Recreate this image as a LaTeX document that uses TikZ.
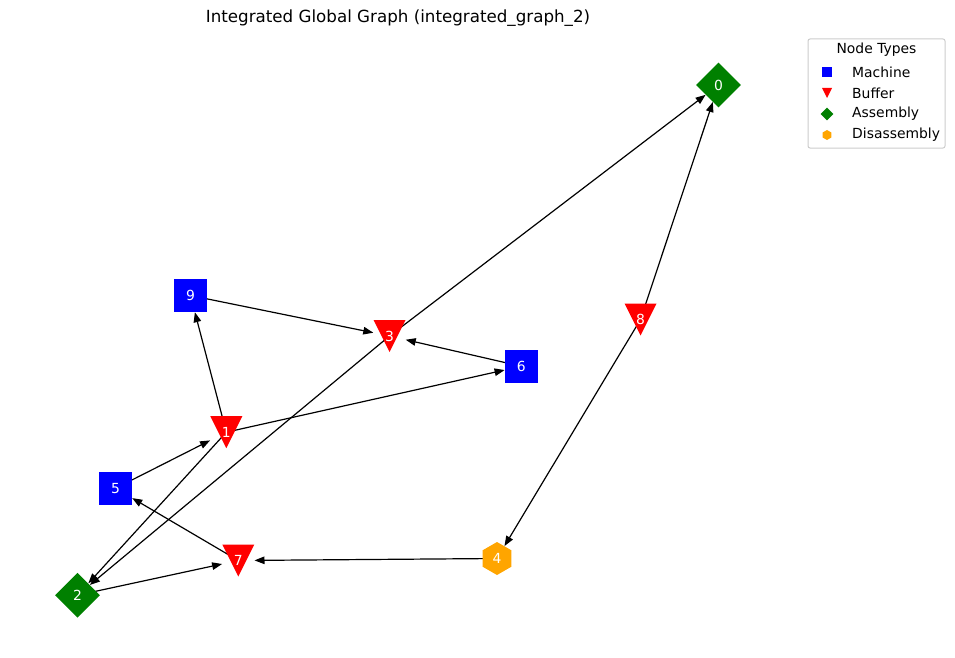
\documentclass[tikz,border=0pt]{standalone}
\usepackage{fontspec}
\setmainfont{DejaVu Sans}
\usetikzlibrary{positioning,arrows.meta,shapes.geometric,backgrounds}
\definecolor{machineblue}{RGB}{0,0,255}
\definecolor{bufferred}{RGB}{255,0,0}
\definecolor{assemblygreen}{RGB}{0,128,0}
\definecolor{disasmorange}{RGB}{255,165,0}
\definecolor{legendframe}{RGB}{204,204,204}

\begin{document}
\begin{tikzpicture}[x=1pt,y=1pt,
      lbl/.style={text=white,font=\fontsize{13.9}{16}\selectfont,inner sep=0pt},
      machine/.style={lbl,rectangle,fill=machineblue,minimum size=33pt},
      buffer/.style={lbl,rectangle,minimum size=32pt,
                     path picture={\fill[bufferred] (path picture bounding box.north west)
                       -- (path picture bounding box.north east)
                       -- (path picture bounding box.south) -- cycle;}},
      assembly/.style={lbl,diamond,fill=assemblygreen,minimum width=45pt,minimum height=45pt},
      disasm/.style={lbl,regular polygon,regular polygon sides=6,shape border rotate=30,
                     fill=disasmorange,minimum size=33pt},
      link/.style={-{Triangle[length=10pt,width=7.5pt]},line width=1.2pt,black},
      legtext/.style={anchor=west,font=\fontsize{13.9}{16}\selectfont,inner sep=0pt}]

    \useasboundingbox (0,0) rectangle (955,-658);

    \node[font=\fontsize{16.7}{20}\selectfont] (title) at (398,-18)
      {Integrated Global Graph (integrated\_graph\_2)};

    % graph nodes
    \node[assembly] (n0) at (718.5,-85) {0};
    \node[buffer]   (n1) at (226.3,-432.2) {1};
    \node[assembly] (n2) at (77.5,-595.2) {2};
    \node[buffer]   (n3) at (389.5,-336) {3};
    \node[disasm]   (n4) at (497,-558.5) {4};
    \node[machine]  (n5) at (115.5,-488.3) {5};
    \node[machine]  (n6) at (521.3,-366.3) {6};
    \node[buffer]   (n7) at (238.3,-560.5) {7};
    \node[buffer]   (n8) at (640.5,-319.5) {8};
    \node[machine]  (n9) at (190.5,-295.5) {9};

    % edges, behind the nodes
    \begin{scope}[on background layer]
      \draw[link] (n9.center) -- (n3);
      \draw[link] (n6.center) -- (n3);
      \draw[link] (n1.center) -- (n9);
      \draw[link] (n1.center) -- (n6);
      \draw[link] (n1.center) -- (n2);
      \draw[link] (n3.center) -- (n2);
      \draw[link] (n3.center) -- (n0);
      \draw[link] (n8.center) -- (n0);
      \draw[link] (n8.center) -- (n4);
      \draw[link] (n5.center) -- (n1);
      \draw[link] (n7.center) -- (n5);
      \draw[link] (n4.center) -- (n7);
      \draw[link] (n2.center) -- (n7);
    \end{scope}

    % legend
    \node[draw=legendframe,line width=1pt,rounded corners=2pt,fill=white,
          minimum width=137pt,minimum height=109pt,inner sep=0pt] (legend) at (876.5,-93.5) {};
    \node[font=\fontsize{13.9}{16}\selectfont,inner sep=0pt] (legtitle) at (876.5,-50) {Node Types};
    \node[rectangle,fill=machineblue,minimum size=10pt,inner sep=0pt] (legm) at (827,-72) {};
    \node[rectangle,minimum size=10pt,inner sep=0pt,
          path picture={\fill[bufferred] (path picture bounding box.north west)
            -- (path picture bounding box.north east)
            -- (path picture bounding box.south) -- cycle;}] (legb) at (827,-93) {};
    \node[diamond,fill=assemblygreen,minimum width=13pt,minimum height=13pt,inner sep=0pt] (lega) at (827,-114) {};
    \node[regular polygon,regular polygon sides=6,shape border rotate=30,fill=disasmorange,
          minimum size=10pt,inner sep=0pt] (legd) at (827,-135) {};
    \node[legtext] at (852,-72) {Machine};
    \node[legtext] at (852,-93) {Buffer};
    \node[legtext] at (852,-114) {Assembly};
    \node[legtext] at (852,-135) {Disassembly};
  \end{tikzpicture}
\end{document}
